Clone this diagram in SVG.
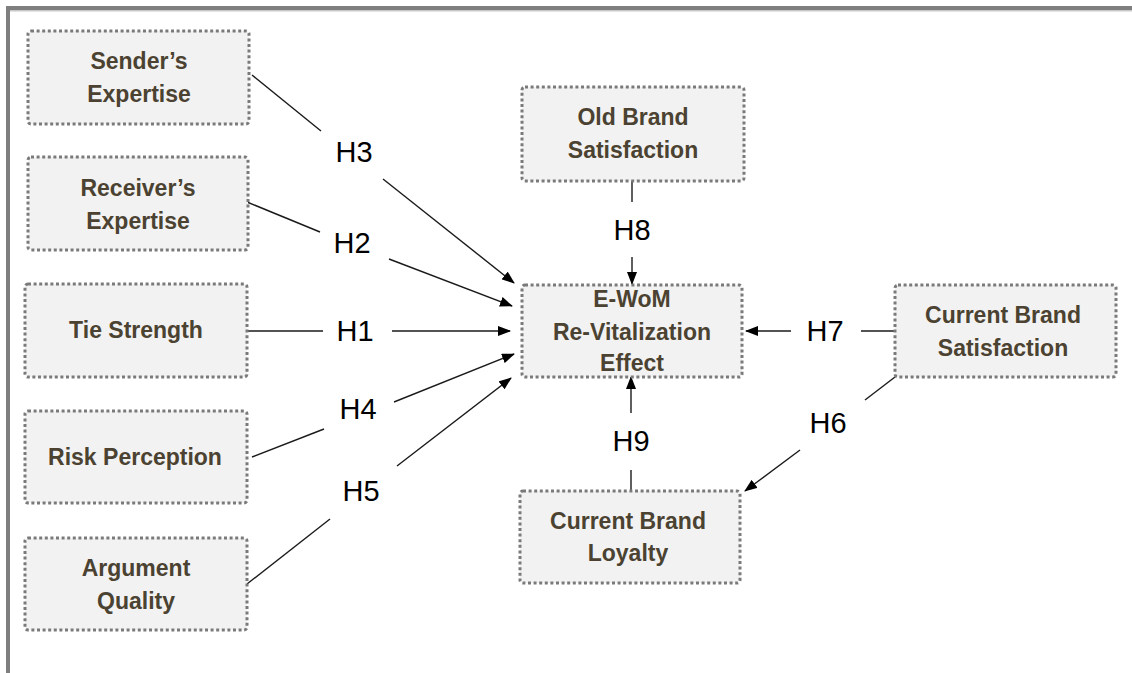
<svg xmlns="http://www.w3.org/2000/svg" width="1132" height="673" viewBox="0 0 1132 673">
<style>
.box{fill:#f2f2f2;stroke:#7a7a7a;stroke-width:3;stroke-dasharray:3 2.6}
.t{font-family:"Liberation Sans",Arial,sans-serif;font-weight:bold;font-size:23px;fill:#4b4231;text-anchor:middle}
.h{font-family:"Liberation Sans",Arial,sans-serif;font-size:29px;fill:#000;text-anchor:middle}
.c{stroke:#1a1a1a;stroke-width:1.4;fill:none}
.a{marker-end:url(#ah)}
</style>
<defs>
<marker id="ah" markerWidth="13" markerHeight="10" refX="12" refY="5" orient="auto" markerUnits="userSpaceOnUse">
<path d="M0,0 L13,5 L0,10 Z" fill="#000"/>
</marker>
</defs>
<rect x="0" y="0" width="1132" height="673" fill="#fff"/>
<rect x="6" y="6" width="1126" height="4" fill="#7f7f7f"/>
<rect x="10" y="10" width="1122" height="1.5" fill="#c8c8c8"/>
<rect x="6" y="6" width="4" height="667" fill="#7f7f7f"/>

<g id="connectors">
<line class="c" x1="252" y1="75" x2="321" y2="131"/>
<line class="c a" x1="383" y1="179" x2="514" y2="283"/>
<line class="c" x1="247" y1="202" x2="320" y2="232"/>
<line class="c a" x1="389" y1="259" x2="512" y2="306"/>
<line class="c" x1="248" y1="331" x2="323" y2="331"/>
<line class="c a" x1="392" y1="331" x2="510" y2="331"/>
<line class="c" x1="252" y1="457" x2="324" y2="429"/>
<line class="c a" x1="394" y1="402" x2="514" y2="354"/>
<line class="c" x1="247" y1="584" x2="330" y2="519"/>
<line class="c a" x1="397" y1="466" x2="511" y2="378"/>
<line class="c" x1="632" y1="181" x2="632" y2="202"/>
<line class="c a" x1="632" y1="257" x2="632" y2="284"/>
<line class="c" x1="631" y1="490" x2="631" y2="470"/>
<line class="c a" x1="631" y1="413" x2="631" y2="377"/>
<line class="c" x1="895" y1="331" x2="861" y2="331"/>
<line class="c a" x1="791" y1="331" x2="746" y2="331"/>
<line class="c" x1="895" y1="377" x2="865" y2="400"/>
<line class="c a" x1="800" y1="450" x2="745" y2="491"/>
<text class="h" x="354" y="162">H3</text>
<text class="h" x="352" y="253">H2</text>
<text class="h" x="355" y="341">H1</text>
<text class="h" x="358" y="419">H4</text>
<text class="h" x="361" y="501">H5</text>
<text class="h" x="632" y="240">H8</text>
<text class="h" x="631" y="451">H9</text>
<text class="h" x="825" y="341">H7</text>
<text class="h" x="828" y="433">H6</text>
</g>

<g id="sender">
<rect class="box" x="28" y="31" width="221" height="93" rx="3"/>
<text class="t" x="139" y="69">Sender’s</text>
<text class="t" x="139" y="102">Expertise</text>
</g>
<g id="receiver">
<rect class="box" x="28" y="157" width="220" height="93" rx="3"/>
<text class="t" x="138" y="196">Receiver’s</text>
<text class="t" x="138" y="229">Expertise</text>
</g>
<g id="tie">
<rect class="box" x="25" y="284" width="222" height="93" rx="3"/>
<text class="t" x="136" y="338">Tie Strength</text>
</g>
<g id="risk">
<rect class="box" x="25" y="411" width="222" height="92" rx="3"/>
<text class="t" x="135" y="465">Risk Perception</text>
</g>
<g id="argument">
<rect class="box" x="25" y="538" width="222" height="92" rx="3"/>
<text class="t" x="136" y="576">Argument</text>
<text class="t" x="136" y="609">Quality</text>
</g>
<g id="oldbrand">
<rect class="box" x="522" y="87" width="222" height="94" rx="3"/>
<text class="t" x="633" y="125">Old Brand</text>
<text class="t" x="633" y="158">Satisfaction</text>
</g>
<g id="ewom">
<rect class="box" x="522" y="285" width="220" height="92" rx="3"/>
<text class="t" x="632" y="307">E-WoM</text>
<text class="t" x="632" y="340">Re-Vitalization</text>
<text class="t" x="632" y="371">Effect</text>
</g>
<g id="currentsat">
<rect class="box" x="895" y="285" width="221" height="92" rx="3"/>
<text class="t" x="1003" y="323">Current Brand</text>
<text class="t" x="1003" y="356">Satisfaction</text>
</g>
<g id="loyalty">
<rect class="box" x="520" y="491" width="220" height="92" rx="3"/>
<text class="t" x="628" y="529">Current Brand</text>
<text class="t" x="628" y="561">Loyalty</text>
</g>
</svg>
